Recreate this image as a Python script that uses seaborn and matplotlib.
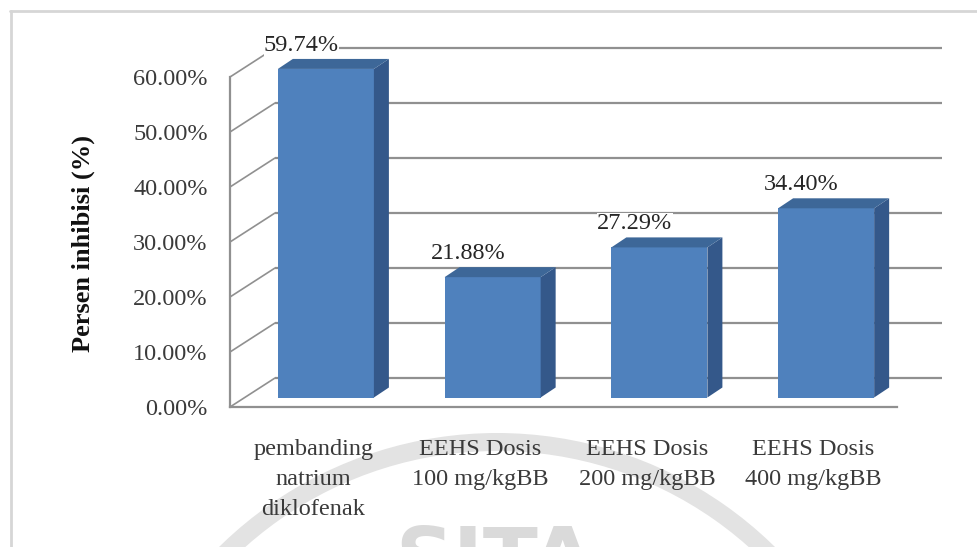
import matplotlib
matplotlib.use("Agg")
import matplotlib.pyplot as plt
import seaborn as sns
import pandas as pd
from matplotlib.patches import Polygon, Wedge
from matplotlib.lines import Line2D
from matplotlib.transforms import Affine2D

# ---- data -------------------------------------------------------------
categories = [
    "pembanding\nnatrium\ndiklofenak",
    "EEHS Dosis\n100 mg/kgBB",
    "EEHS Dosis\n200 mg/kgBB",
    "EEHS Dosis\n400 mg/kgBB",
]
values = [59.74, 21.88, 27.29, 34.40]
yticks = [0, 10, 20, 30, 40, 50, 60]
ytick_labels = [f"{t:.2f}%" for t in yticks]
ylabel = "Persen inhibisi (%)"

# ---- style ------------------------------------------------------------
FRONT = "#4F81BD"
SIDE = "#34588A"
TOP = "#3D6798"
GRID = "#909090"
TEXT = "#3a3a3a"

W, H, DPI = 977, 547, 100
sns.set_theme(style="white")
plt.rcParams["font.family"] = ["Liberation Serif", "DejaVu Serif"]

fig = plt.figure(figsize=(W / DPI, H / DPI), dpi=DPI)
fig.patch.set_facecolor("white")
pix = Affine2D().scale(1 / W, 1 / H) + fig.transFigure  # pixel coords, origin bottom-left

# faint arc + lettering in the page background
fig.add_artist(Wedge((497, -282), 396, 20, 160, width=18, transform=pix,
                     facecolor="#e3e3e3", edgecolor="none", zorder=-2))
fig.text(495 / W, -38 / H, "SITA", fontsize=58, fontweight="bold",
         family="DejaVu Sans", color="#dadada", ha="center", va="baseline", zorder=-2)

# chart-area frame
fig.add_artist(Line2D([10, W], [H - 10.5, H - 10.5], transform=pix, color="#d6d6d6", lw=2))
fig.add_artist(Line2D([11, 11], [0, H - 10.5], transform=pix, color="#d6d6d6", lw=2))

# front plane of the 3-D box
left, right, top, bottom = 230, 897, 77, 407
ax = fig.add_axes([left / W, 1 - bottom / H, (right - left) / W, (bottom - top) / H])
ax.set_facecolor("none")

df = pd.DataFrame({"kategori": categories, "nilai": values})
sns.barplot(data=df, x="kategori", y="nilai", ax=ax, width=0.576, color=FRONT,
            saturation=1, edgecolor="none", zorder=3)
ax.set_xlim(-0.5, 3.5)
ax.set_ylim(0, 60)

px = 4.0 / (right - left)      # data units per pixel, x
py = 60.0 / (bottom - top)     # data units per pixel, y

# back wall gridlines and the diagonals joining them to the front axis
wx, wy = 45 * px, 29 * py
for t in yticks:
    ax.plot([-0.5 + wx, 3.5 + wx], [t + wy, t + wy], color=GRID, lw=1.6,
            clip_on=False, zorder=1, solid_capstyle="butt")
    ax.plot([-0.5, -0.5 + wx], [t, t + wy], color=GRID, lw=1.2,
            clip_on=False, zorder=1)

# push bars into the box and give them depth
bx, by = 12.5 * px, 9.5 * py
dx, dy = 15 * px, 10 * py
for p in list(ax.patches):
    x0, w, h = p.get_x(), p.get_width(), p.get_height()
    p.set_x(x0 + bx)
    p.set_y(by)
    p.set_clip_on(False)
    xl, xr, y0, y1 = x0 + bx, x0 + bx + w, by, by + h
    ax.add_patch(Polygon([(xr, y0), (xr, y1), (xr + dx, y1 + dy), (xr + dx, y0 + dy)],
                         closed=True, facecolor=SIDE, edgecolor="none", zorder=3, clip_on=False))
    ax.add_patch(Polygon([(xl, y1), (xr, y1), (xr + dx, y1 + dy), (xl + dx, y1 + dy)],
                         closed=True, facecolor=TOP, edgecolor="none", zorder=3, clip_on=False))

# value labels
for i, v in enumerate(values):
    ax.annotate(f"{v:.2f}%", xy=(i, v), xytext=(-12, 33), textcoords="offset pixels",
                ha="center", va="center", fontsize=17.5, color="#262626", zorder=6,
                annotation_clip=False,
                bbox=dict(boxstyle="square,pad=0", fc="white", ec="none"))

# axes, ticks
sns.despine(ax=ax)
for s in ("left", "bottom"):
    ax.spines[s].set_color(GRID)
    ax.spines[s].set_linewidth(1.6)
ax.set_yticks(yticks)
ax.set_yticklabels(ytick_labels)
ax.tick_params(axis="y", length=0, pad=16, labelsize=17.5, labelcolor=TEXT)
ax.tick_params(axis="x", length=0, pad=23, labelsize=17.5, labelcolor=TEXT)
for lab in ax.get_xticklabels():
    lab.set_linespacing(1.55)
ax.set_xlabel("")
ax.set_ylabel("")
fig.text(83 / W, 1 - 243 / H, ylabel, rotation=90, fontsize=19, fontweight="bold",
         color="#111111", ha="center", va="center")

fig.savefig("out.png", dpi=DPI, facecolor="white")
